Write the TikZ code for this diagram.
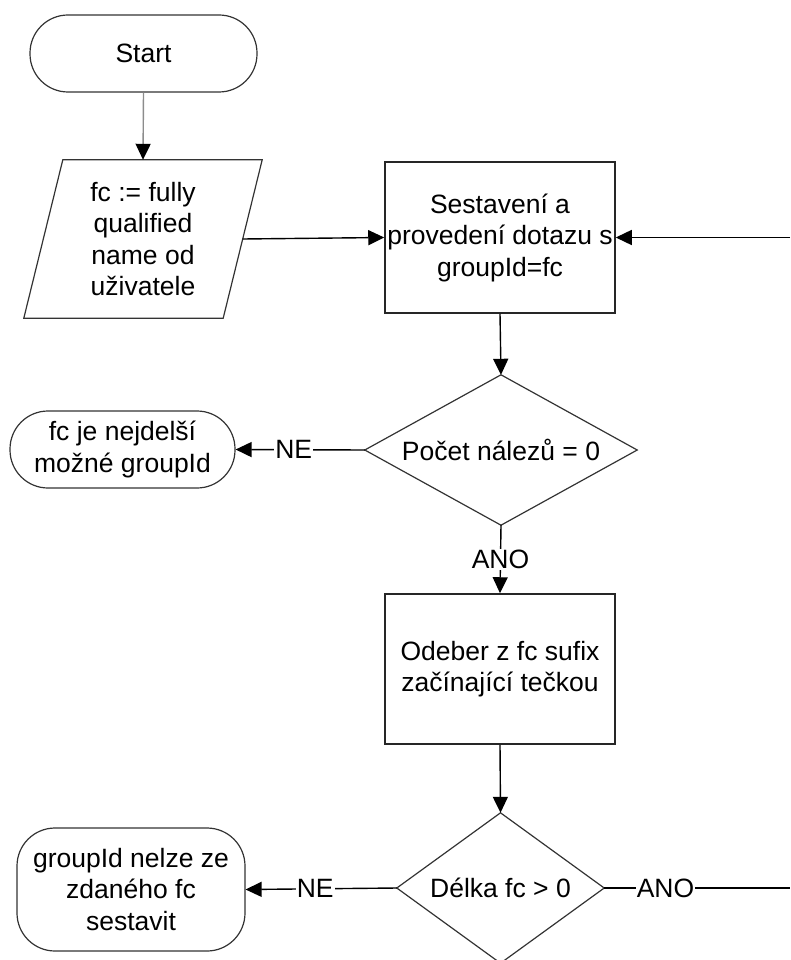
\documentclass[tikz,border=0pt]{standalone}
\usepackage{fontspec}
\setmainfont{Liberation Sans}
\usetikzlibrary{arrows.meta}

\tikzset{
  txt/.style={font=\fontsize{26.5}{31.5}\selectfont, align=center, text=black},
  terminal/.style={txt, draw=black!80, line width=1.2pt, rounded corners=38pt, inner sep=0pt},
  process/.style={txt, draw=black!85, line width=1.5pt, inner sep=0pt},
  frame/.style={txt, inner sep=0pt},
  outline/.style={draw=black!80, line width=1.2pt, line join=miter},
  flow/.style={draw=black, line width=1.4pt, -{Triangle[length=16pt,width=15pt]}},
  plain/.style={draw=black, line width=1.4pt},
  lbl/.style={font=\fontsize{26.5}{30}\selectfont, fill=white, inner sep=1pt, text=black}
}

\begin{document}
\begin{tikzpicture}[x=1pt, y=-1pt]
\useasboundingbox (0,0) rectangle (790,960);

% start / end terminals
\node[terminal, minimum width=227pt, minimum height=77pt] (start) at (143.5,53.5) {Start};
\node[terminal, minimum width=225pt, minimum height=77pt] (found) at (122.5,449.5)
  {fc je nejdelší\\možné groupId};
\node[terminal, minimum width=228pt, minimum height=123pt] (fail) at (131,889.5)
  {groupId nelze ze\\zdaného fc\\sestavit};

% input (parallelogram)
\node[frame, minimum width=199pt, minimum height=158pt] (input) at (143,239)
  {fc := fully\\qualified\\name od\\uživatele};
\draw[outline] ([xshift=19.5pt]input.north west) -- ([xshift=19.5pt]input.north east)
  -- ([xshift=-19.5pt]input.south east) -- ([xshift=-19.5pt]input.south west) -- cycle;

% processes
\node[process, minimum width=230pt, minimum height=151pt] (query) at (500,237.5)
  {Sestavení a\\provedení dotazu s\\groupId=fc};
\node[process, minimum width=230pt, minimum height=150pt] (strip) at (500,669)
  {Odeber z fc sufix\\začínající tečkou};

% decisions
\node[frame, minimum width=272pt, minimum height=150pt] (count) at (501,450)
  {Počet nálezů = 0};
\draw[outline] (count.north) -- (count.east) -- (count.south) -- (count.west) -- cycle;
\node[frame, minimum width=207pt, minimum height=150pt] (len) at (500.5,888)
  {Délka fc > 0};
\draw[outline] (len.north) -- (len.east) -- (len.south) -- (len.west) -- cycle;

% loop ends at the right border
\coordinate (loopin) at (790,237.5);
\coordinate (loopout) at (790,888);

% connectors
\draw[flow, draw=black!45, {Triangle[length=16pt,width=15pt,black]}-] (input.north) -- (start.south);
\draw[flow] (input.east) -- (query.west);
\draw[flow] (loopin) -- (query.east);
\draw[flow] (query.south) -- (count.north);
\draw[flow] (count.west) -- node[lbl, pos=0.55] {NE} (found.east);
\draw[flow] (count.south) -- node[lbl, pos=0.5] {ANO} (strip.north);
\draw[flow] (strip.south) -- (len.north);
\draw[flow] (len.west) -- node[lbl, pos=0.54] {NE} (fail.east);
\draw[plain] (len.east) -- node[lbl, pos=0.33] {ANO} (loopout);
\end{tikzpicture}
\end{document}
